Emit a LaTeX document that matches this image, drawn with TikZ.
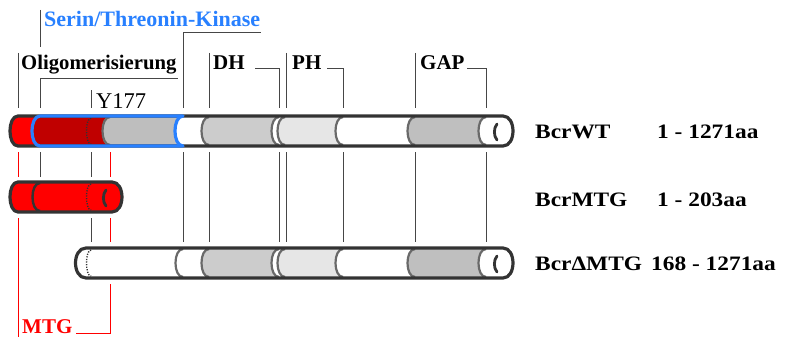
\documentclass[tikz,border=0pt]{standalone}
\usepackage{fontspec}
\setmainfont{Liberation Serif}
\newfontfamily\widefont[FakeStretch=1.14]{Liberation Serif}
\definecolor{kblue}{RGB}{40,128,255}
\definecolor{outl}{RGB}{51,51,51}
\definecolor{arcc}{RGB}{105,105,105}
\definecolor{dred}{RGB}{192,0,0}
\definecolor{lred}{RGB}{255,0,0}
\definecolor{gA}{RGB}{190,190,190}
\definecolor{gB}{RGB}{204,204,204}
\definecolor{gC}{RGB}{230,230,230}
\definecolor{gD}{RGB}{191,191,191}
\definecolor{tickc}{RGB}{70,70,70}
\newcommand\segfill[5]{\fill[#1] (#2,#4) .. controls +(-10.7,0) and +(-10.7,0) .. (#2,#5) -- (#3,#5) .. controls +(-10.7,0) and +(-10.7,0) .. (#3,#4) -- cycle;}
\newcommand\segarc[4]{\draw[#1] (#2,#3) .. controls +(-10,0) and +(-10,0) .. (#2,#4);}
\tikzset{
  tk/.style={draw=tickc, line width=0.9pt},
  rd/.style={draw=lred, line width=1pt},
  barline/.style={draw=outl, line width=3.2pt, line join=round},
  segline/.style={draw=arcc, line width=2.2pt},
  blueline/.style={draw=kblue, line width=3.2pt, line join=round},
  dotline/.style={draw=outl, line width=1.4pt, dash pattern=on 1.2pt off 1.4pt},
  markline/.style={draw=outl, line width=2.8pt, line cap=round},
  lab/.style={anchor=base west, inner sep=0pt},
  blab/.style={lab, font=\widefont\bfseries\fontsize{20.5}{24}\selectfont},
}
\begin{document}
\begin{tikzpicture}[x=1pt, y=-1pt]
\useasboundingbox (0,0) rectangle (786,337);
% ---------------- guide lines ----------------
\draw[tk] (18,53) -- (18,108);
\draw[tk] (40,10) -- (40,47);
\draw[tk] (40,108) -- (40,78) -- (178,78);
\draw[tk] (91,90) -- (91,108);
\draw[tk] (183,108) -- (183,32) -- (261,32);
\draw[tk] (209,53) -- (209,108);
\draw[tk] (255,68) -- (279,68) -- (279,108);
\draw[tk] (286,53) -- (286,108);
\draw[tk] (327,68) -- (343,68) -- (343,108);
\draw[tk] (415,53) -- (415,108);
\draw[tk] (467,68) -- (486,68) -- (486,108);
\draw[rd] (18,152) -- (18,177);
\draw[tk] (40,152) -- (40,177);
\draw[tk] (91,152) -- (91,177);
\draw[rd] (110,152) -- (110,177);
\foreach \x in {183,209,279,286,343,415,486} \draw[tk] (\x,152) -- (\x,242);
\draw[rd] (18,218) -- (18,337);
\draw[tk] (91,218) -- (91,242);
\draw[rd] (110,218) -- (110,242);
\draw[rd] (110,284) -- (110,333) -- (76,333);
% ---------------- bar 1: BcrWT ----------------
\segfill{lred}{18}{40}{116}{146}
\segfill{dred}{40}{110}{116}{146}
\segfill{gA}{110}{183}{116}{146}
\segfill{gB}{209}{279}{116}{146}
\segfill{gC}{285}{343}{116}{146}
\segfill{gD}{415}{486}{116}{146}
\segarc{segline}{110}{117}{145}
\foreach \x in {209,279,285,343,415,486} {\segarc{segline}{\x}{117}{145}}
\draw[dotline] (91,118) .. controls +(-6,0) and +(-6,0) .. (91,144);
\draw[barline] (18,116) .. controls +(-10.7,0) and +(-10.7,0) .. (18,146) -- (503,146) .. controls +(13.3,0) and +(13.3,0) .. (503,116) -- cycle;
\draw[blueline] (40,116) .. controls +(-10.7,0) and +(-10.7,0) .. (40,146) -- (183,146) .. controls +(-10.7,0) and +(-10.7,0) .. (183,116) -- cycle;
\draw[markline] (497,124) .. controls (493.5,128) and (493.5,136) .. (497,140);
% ---------------- bar 2: BcrMTG ----------------
\fill[lred] (18,182) .. controls +(-10.7,0) and +(-10.7,0) .. (18,212) -- (112,212) .. controls +(13.3,0) and +(13.3,0) .. (112,182) -- cycle;
\segarc{barline, line width=2.4pt}{40}{183}{211}
\draw[dotline] (91,184) .. controls +(-6,0) and +(-6,0) .. (91,210);
\draw[barline] (18,182) .. controls +(-10.7,0) and +(-10.7,0) .. (18,212) -- (112,212) .. controls +(13.3,0) and +(13.3,0) .. (112,182) -- cycle;
\draw[markline] (106,190) .. controls (102.5,194) and (102.5,202) .. (106,206);
% ---------------- bar 3: BcrDeltaMTG ----------------
\segfill{gB}{209}{279}{248}{278}
\segfill{gC}{285}{343}{248}{278}
\segfill{gD}{415}{486}{248}{278}
\foreach \x in {183,209,279,285,343,415,486} {\segarc{segline}{\x}{249}{277}}
\draw[dotline] (91,250) .. controls +(-6,0) and +(-6,0) .. (91,276);
\draw[barline] (86,248) .. controls +(-14,0) and +(-14,0) .. (86,278) -- (503,278) .. controls +(13.3,0) and +(13.3,0) .. (503,248) -- cycle;
\draw[markline] (497,256) .. controls (493.5,260) and (493.5,268) .. (497,272);
% ---------------- labels ----------------
\node[lab, text=kblue, font=\bfseries\fontsize{22}{26}\selectfont] (kin) at (44,27) {Serin/Threonin-Kinase};
\node[lab, font=\bfseries\fontsize{20.7}{24}\selectfont] (oli) at (21,70) {Oligomerisierung};
\node[lab, font=\fontsize{22.5}{26}\selectfont] (y177) at (96,108) {Y177};
\node[lab, font=\bfseries\fontsize{21}{25}\selectfont] (dh) at (213,70) {DH};
\node[lab, font=\bfseries\fontsize{21}{25}\selectfont] (ph) at (292,70) {PH};
\node[lab, font=\bfseries\fontsize{21}{25}\selectfont] (gap) at (420,70) {GAP};
\node[lab, text=lred, font=\bfseries\fontsize{21}{25}\selectfont] (mtg) at (22,333) {MTG};
\node[blab] (n1) at (535,138) {BcrWT};
\node[blab] (r1) at (657,138) {1 - 1271aa};
\node[blab] (n2) at (535,206) {BcrMTG};
\node[blab] (r2) at (657,206) {1 - 203aa};
\node[blab] (n3) at (535,270) {BcrΔMTG};
\node[blab] (r3) at (651,270) {168 - 1271aa};
\end{tikzpicture}
\end{document}
